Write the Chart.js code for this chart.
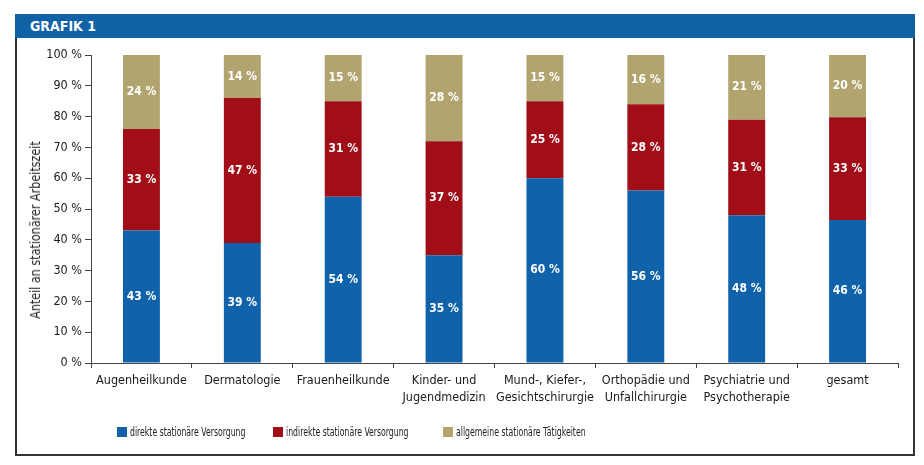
<!DOCTYPE html>
<html><head><meta charset="utf-8">
<script src="https://cdn.jsdelivr.net/npm/chart.js@4"></script>
<style>
html,body{margin:0;padding:0;background:#fff;width:924px;height:465px;overflow:hidden;font-family:'DejaVu Sans Condensed','Liberation Sans',sans-serif;}
#frame{position:absolute;left:15px;top:14px;width:896px;height:438px;border:2px solid #333;}
#wrap{position:absolute;left:0;top:0;width:924px;height:465px;}
#header{position:absolute;left:15px;top:14px;width:900px;height:24px;background:#0f62a6;color:#fff;font-weight:bold;font-size:14px;line-height:25px;padding-left:15px;box-sizing:border-box;}
#ytitle{position:absolute;left:35px;top:230px;transform:translate(-50%,-50%) rotate(-90deg) scaleX(0.92);white-space:nowrap;font-size:13.5px;color:#222;}
.leg{position:absolute;top:425px;font-size:12.5px;color:#222;white-space:nowrap;line-height:14px;}
.leg i{position:absolute;left:0;top:2px;width:10px;height:10px;}
.leg span{position:absolute;left:13px;top:0;transform:scaleX(0.69);transform-origin:0 50%;}
</style></head>
<body>
<div id="frame"></div>
<div id="wrap"><canvas id="c"></canvas></div>
<div id="header">GRAFIK 1</div>
<div id="ytitle">Anteil an stationärer Arbeitszeit</div>
<div id="legend"></div>
<script>
const categories = ["Augenheilkunde","Dermatologie","Frauenheilkunde",["Kinder- und","Jugendmedizin"],["Mund-, Kiefer-,","Gesichtschirurgie"],["Orthopädie und","Unfallchirurgie"],["Psychiatrie und","Psychotherapie"],"gesamt"];
const direkte = [43,39,54,35,60,56,48,46.4];
const indirekte = [33,47,31,37,25,28,31,33.4];
const allgemeine = [24,14,15,28,15,16,21,20.2];
const seriesNames = ["direkte stationäre Versorgung","indirekte stationäre Versorgung","allgemeine stationäre Tätigkeiten"];
const seriesColors = ["#1062ab","#a10e18","#b2a46f"];
const FONT = "'DejaVu Sans Condensed','Liberation Sans',sans-serif";

// HTML legend
const legX = [117,273,443];
const legEl = document.getElementById('legend');
seriesNames.forEach((n,i)=>{
  const d=document.createElement('div'); d.className='leg'; d.style.left=legX[i]+'px';
  d.innerHTML='<i style="background:'+seriesColors[i]+'"></i><span>'+n+'</span>'; legEl.appendChild(d);
});

const barLabels = {id:'barLabels', afterDatasetsDraw(chart){
  const ctx=chart.ctx; ctx.save(); ctx.fillStyle='#fff';
  ctx.font='bold 12px '+FONT; ctx.textAlign='center'; ctx.textBaseline='middle';
  chart.data.datasets.forEach((ds,i)=>{
    const meta=chart.getDatasetMeta(i);
    meta.data.forEach((bar,j)=>{
      const p=bar.getProps(['x','y','base'],true);
      ctx.fillText(Math.round(ds.data[j])+' %', p.x, (p.y+p.base)/2);
    });
  });
  ctx.restore();
}};

new Chart(document.getElementById('c'), {
  type:'bar',
  data:{labels:categories, datasets:[
    {label:seriesNames[0], data:direkte, backgroundColor:seriesColors[0]},
    {label:seriesNames[1], data:indirekte, backgroundColor:seriesColors[1]},
    {label:seriesNames[2], data:allgemeine, backgroundColor:seriesColors[2]}
  ]},
  options:{
    responsive:true, maintainAspectRatio:false, animation:false,
    datasets:{bar:{barPercentage:0.366, categoryPercentage:1}},
    layout:{padding:{left:0,right:26,top:55,bottom:48}},
    plugins:{legend:{display:false}, tooltip:{enabled:false}},
    scales:{
      x:{stacked:true,
        grid:{offset:true, drawOnChartArea:false, drawTicks:true, tickLength:5, color:'#444'},
        border:{color:'#444', width:1},
        ticks:{font:{family:FONT,size:12.5,lineHeight:1.3}, color:'#1a1a1a', padding:5, maxRotation:0, autoSkip:false},
        afterFit(s){s.height=54;}
      },
      y:{stacked:true, min:0, max:100,
        grid:{drawOnChartArea:false, tickLength:6, color:'#444'},
        border:{color:'#444', width:1},
        ticks:{stepSize:10, callback:v=>v+' %', font:{family:FONT,size:12.5}, color:'#1a1a1a', padding:3},
        afterFit(s){s.width=91;}
      }
    }
  },
  plugins:[barLabels]
});
</script>
</body></html>
